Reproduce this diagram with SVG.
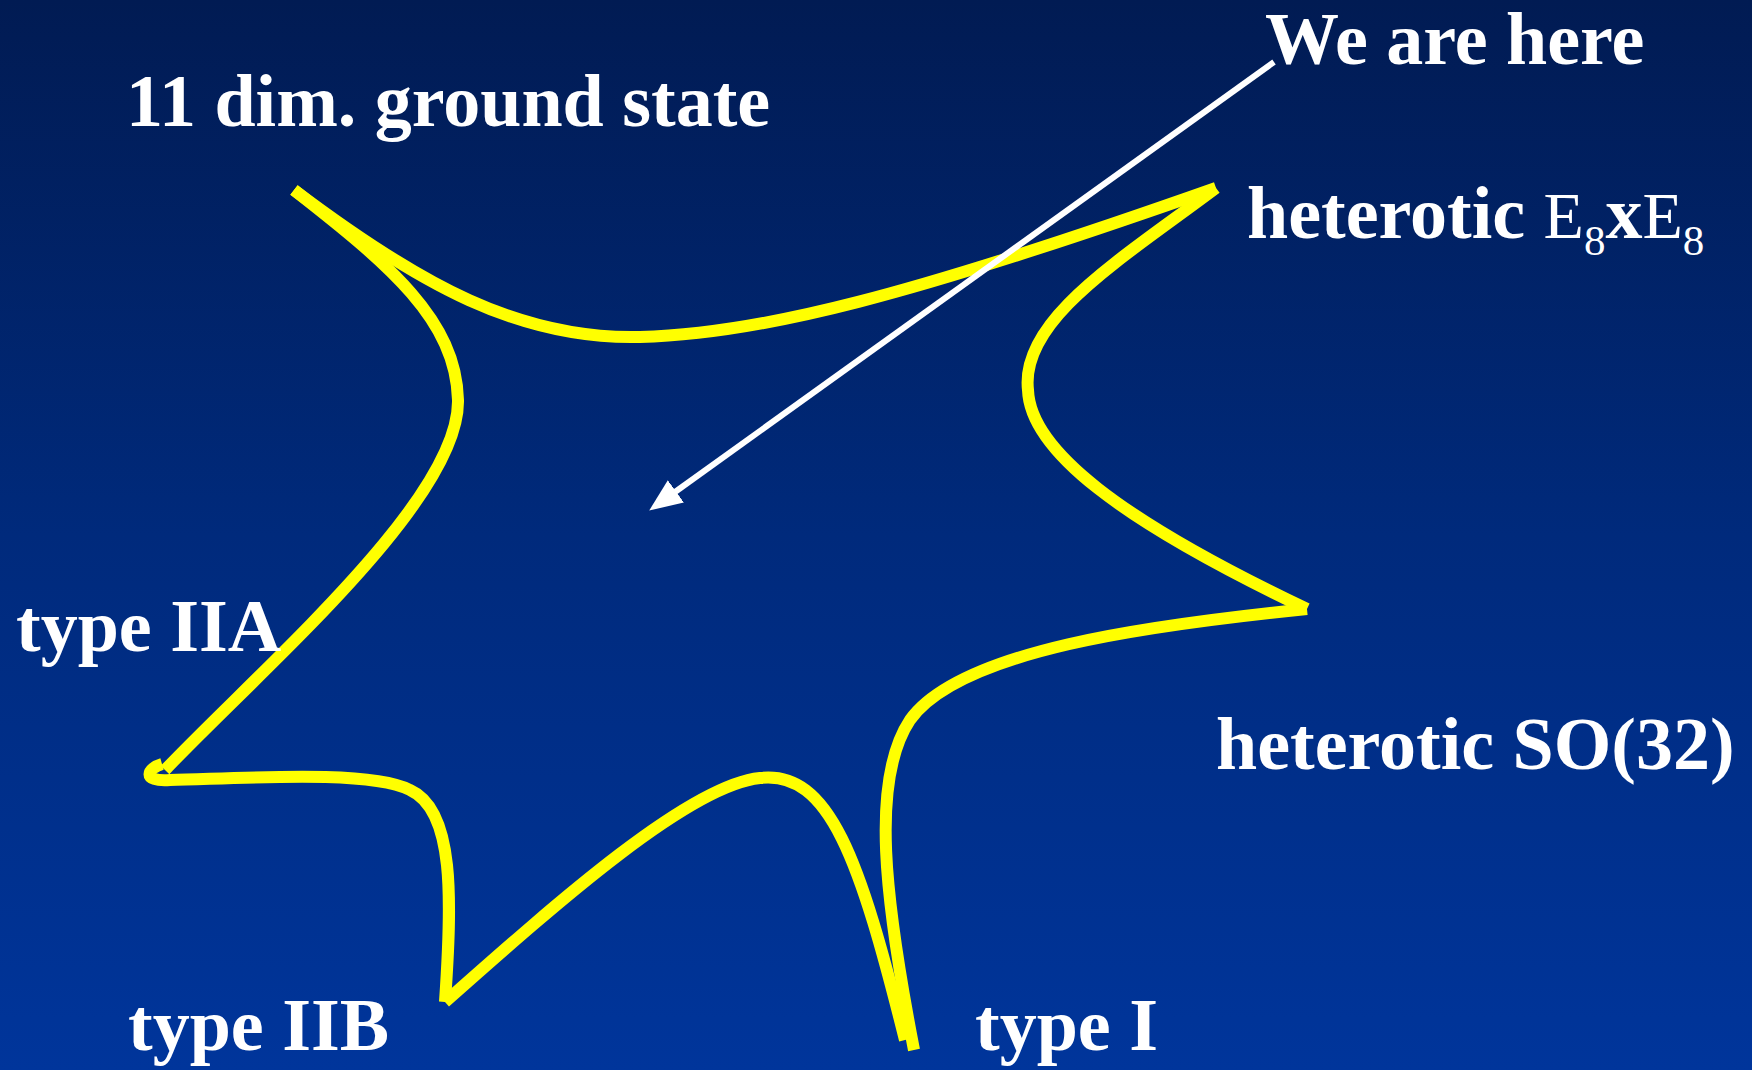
<svg xmlns="http://www.w3.org/2000/svg" width="1752" height="1070" viewBox="0 0 1752 1070">
<defs>
<linearGradient id="bg" x1="0" y1="0" x2="0" y2="1">
<stop offset="0" stop-color="#011b53"/>
<stop offset="0.5" stop-color="#002a7c"/>
<stop offset="1" stop-color="#00359b"/>
</linearGradient>
<marker id="ah" markerUnits="userSpaceOnUse" markerWidth="36" markerHeight="32" viewBox="0 -15 34 30" refX="1" refY="0" orient="auto">
<path d="M0,-13 L31,0 L0,13 z" fill="#ffffff"/>
</marker>
<style>
.lbl{font-family:"Liberation Serif","Times New Roman",serif;font-weight:bold;font-size:74px;fill:#ffffff}
.reg{font-weight:normal}
.star{fill:none;stroke:#ffff00;stroke-width:12;stroke-linecap:butt;stroke-linejoin:round}
.ptr{fill:none;stroke:#ffffff;stroke-width:6}
</style>
</defs>
<rect x="0" y="0" width="1752" height="1070" fill="url(#bg)"/>
<g id="connectors">
<path class="star" d="M294,190 C420,285 520,340 640,337 C760,334 910,296 1216,188"/>
<path class="star" d="M1216,188 C1120,260 1020,320 1028,390 C1030,450 1120,520 1307,609"/>
<path class="star" d="M1307,609 C1150,625 960,650 910,720 C870,780 885,900 914,1050"/>
<path class="star" d="M905,1040 C860,860 830,770 760,778 C690,785 560,900 445,1002"/>
<path class="star" d="M445,1002 C452,900 455,810 410,790 C370,770 250,778 170,780 C140,782 148,768 162,764"/>
<path class="star" d="M165,770 C260,670 460,500 458,400 C456,320 390,265 294,190"/>
<line class="ptr" x1="1274" y1="62" x2="675" y2="492" marker-end="url(#ah)"/>
</g>
<g id="node-11dim"><text class="lbl" x="126" y="126">11 dim. ground state</text></g>
<g id="node-we-are-here"><text class="lbl" x="1265" y="64">We are here</text></g>
<g id="node-heterotic-e8"><text class="lbl" x="1247" y="238">heterotic <tspan class="reg" font-size="66">E</tspan><tspan class="reg" font-size="43" dy="17">8</tspan><tspan dy="-17">x</tspan><tspan class="reg" font-size="66">E</tspan><tspan class="reg" font-size="43" dy="17">8</tspan></text></g>
<g id="node-heterotic-so32"><text class="lbl" x="1216" y="769">heterotic SO(32)</text></g>
<g id="node-type-iia"><text class="lbl" x="16" y="651">type IIA</text></g>
<g id="node-type-iib"><text class="lbl" x="128" y="1050">type IIB</text></g>
<g id="node-type-i"><text class="lbl" x="975" y="1050">type I</text></g>
</svg>
